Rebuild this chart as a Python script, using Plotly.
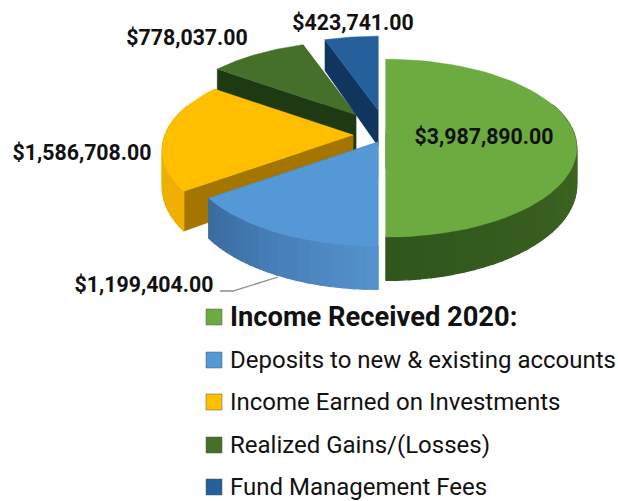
import math
import plotly.graph_objects as go

categories = ["Income Received 2020:", "Deposits to new & existing accounts",
              "Income Earned on Investments", "Realized Gains/(Losses)", "Fund Management Fees"]
values = [3987890, 1199404, 1586708, 778037, 423741]

# styles and layout (separate from the data)
top_colors = ["#6CAB3F", "#5598D6", "#FFBE00", "#44702A", "#24609C"]
rim_start = [(78, 120, 42), (84, 146, 205), (240, 175, 5), (30, 55, 20), (20, 55, 95)]
rim_end = [(48, 86, 28), (58, 108, 160), (240, 175, 5), (30, 55, 20), (20, 55, 95)]
side_colors = ["#37601F", "#3F75AC", "#A47600", "#1D3A13", "#103660"]
anchors = [(386, 133), (378, 142), (353, 135), (356, 115), (378, 110)]
draw_order = [3, 4, 2, 1, 0]
label_pos = [(484, 139), (144, 287), (82, 155), (187, 40), (353, 25)]
legend_y = [317, 360, 402, 445, 487]
RX, RY, PERSP, DEPTH = 188, 86.4, 0.17, 36
FONT = "Roboto, Liberation Sans, sans-serif"

total = sum(values)
starts, a = [], 0.0
for v in values:
    starts.append(a)
    a += v / total * 2 * math.pi


def project(anchor, r, theta, drop=0.0):
    X, Y = r * math.sin(theta), r * math.cos(theta)
    s = 1 / (1 + PERSP * Y)
    return anchor[0] + RX * X * s, anchor[1] - RY * Y * s + drop * DEPTH * s


def poly(fig, pts, color, w=0.4):
    xs = [p[0] for p in pts] + [pts[0][0]]
    ys = [p[1] for p in pts] + [pts[0][1]]
    fig.add_trace(go.Scatter(x=xs, y=ys, mode="lines", fill="toself", fillcolor=color,
                             line=dict(width=w, color=color), hoverinfo="skip", showlegend=False))


fig = go.Figure()
for i in draw_order:
    t0 = starts[i]
    t1 = t0 + values[i] / total * 2 * math.pi
    anc = anchors[i]
    # side walls
    for t in (t0, t1):
        poly(fig, [project(anc, 0, t), project(anc, 1, t), project(anc, 1, t, 1), project(anc, 0, t, 1)],
             side_colors[i])
    # rim wall, shaded in steps
    n = max(4, int((t1 - t0) / 0.05))
    for k in range(n):
        ta, tb = t0 + (t1 - t0) * k / n, t0 + (t1 - t0) * (k + 1) / n
        if math.cos((ta + tb) / 2) > 0.35:
            continue
        f = k / max(1, n - 1)
        c = tuple(round(rim_start[i][j] * (1 - f) + rim_end[i][j] * f) for j in range(3))
        poly(fig, [project(anc, 1, ta), project(anc, 1, tb), project(anc, 1, tb, 1), project(anc, 1, ta, 1)],
             "rgb(%d,%d,%d)" % c, w=1.2)
    # top face
    arc = [project(anc, 1, t0 + (t1 - t0) * k / 60) for k in range(61)]
    poly(fig, [project(anc, 0, t0)] + arc, top_colors[i])

# value labels
for i, v in enumerate(values):
    fig.add_trace(go.Scatter(x=[label_pos[i][0]], y=[label_pos[i][1]], mode="text",
                             text=["${:,.2f}".format(v)], textposition="middle center",
                             textfont=dict(family=FONT, size=21.3, color="#111111", weight="bold"),
                             hoverinfo="skip", showlegend=False))

# legend
for i, name in enumerate(categories):
    fig.add_trace(go.Scatter(x=[214], y=[legend_y[i]], mode="markers",
                             marker=dict(symbol="square", size=16, color=top_colors[i],
                                         line=dict(width=0.5, color="#555555")),
                             hoverinfo="skip", showlegend=False))
    fig.add_annotation(x=228, y=legend_y[i], xref="x", yref="y", text=name, showarrow=False,
                       xanchor="left", yanchor="middle",
                       font=dict(family=FONT, size=27.3 if i == 0 else 24, color="#111111",
                                 weight="bold" if i == 0 else "normal"))

fig.update_layout(
    width=618, height=501, margin=dict(l=0, r=0, t=0, b=0),
    paper_bgcolor="white", plot_bgcolor="white",
    xaxis=dict(range=[0, 618], visible=False, fixedrange=True),
    yaxis=dict(range=[501, 0], visible=False, fixedrange=True),
    shapes=[dict(type="path", path="M 220 291 L 233 291 L 278 277",
                 line=dict(color="#8C8C8C", width=1.3), layer="below")],
)
fig.write_html("out.html", config={"displayModeBar": False},
               post_script="document.body.style.margin='0';")
